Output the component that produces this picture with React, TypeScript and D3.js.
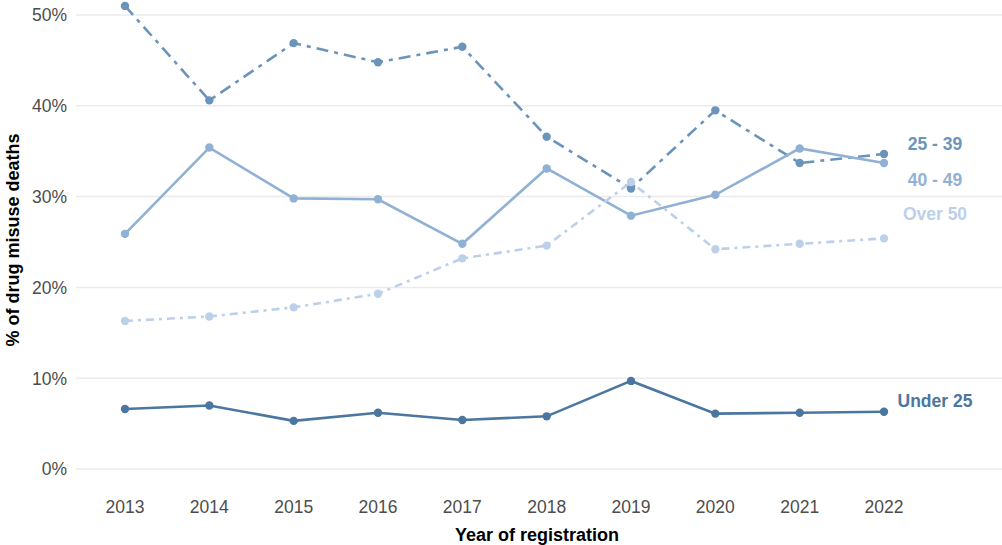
import * as d3 from 'd3';
import React from 'react';

const years = [2013, 2014, 2015, 2016, 2017, 2018, 2019, 2020, 2021, 2022];
const under25 = [6.6, 7.0, 5.3, 6.2, 5.4, 5.8, 9.7, 6.1, 6.2, 6.3];
const age25to39 = [51.0, 40.6, 46.9, 44.8, 46.5, 36.6, 30.9, 39.5, 33.7, 34.7];
const age40to49 = [25.9, 35.4, 29.8, 29.7, 24.8, 33.1, 27.9, 30.2, 35.3, 33.7];
const over50 = [16.3, 16.8, 17.8, 19.3, 23.2, 24.6, 31.6, 24.2, 24.8, 25.4];
const seriesNames = ['Under 25', '25 - 39', '40 - 49', 'Over 50'];
const labelValues = [7.5, 35.8, 31.9, 28.1];
const yTicks = [0, 10, 20, 30, 40, 50];

const series = [
  { name: seriesNames[0], values: under25, color: '#4a76a0', dash: null },
  { name: seriesNames[1], values: age25to39, color: '#6b94bb', dash: '12,6,4,6' },
  { name: seriesNames[2], values: age40to49, color: '#91b1d4', dash: null },
  { name: seriesNames[3], values: over50, color: '#bdd0ea', dash: '8,5,3,5' },
];

const width = 1002;
const height = 545;

export default function App() {
  const x = d3.scaleLinear().domain([2013, 2022]).range([125, 884]);
  const y = d3.scaleLinear().domain([0, 50]).range([469, 15]);
  const line = d3.line<number>()
    .x((d, i) => x(years[i]))
    .y(d => y(d));

  const font = 'Arial, "Liberation Sans", sans-serif';

  return (
    <svg width={width} height={height} style={{ position: 'absolute', left: 0, top: 0 }}>
      <g>
        {yTicks.map(t => (
          <g key={t}>
            <line x1={76} x2={width} y1={y(t)} y2={y(t)} stroke="#ebebeb" strokeWidth={1.5} />
            <text x={67} y={y(t)} dy="0.36em" textAnchor="end" fontFamily={font} fontSize={17.5} fill="#4d4d4d">
              {t}%
            </text>
          </g>
        ))}
        {years.map(yr => (
          <text key={yr} x={x(yr)} y={513} textAnchor="middle" fontFamily={font} fontSize={17.5} fill="#4d4d4d">
            {yr}
          </text>
        ))}
      </g>
      {series.map(s => (
        <g key={s.name}>
          <path d={line(s.values) || ''} fill="none" stroke={s.color} strokeWidth={2.6}
            strokeDasharray={s.dash || undefined} />
          {s.values.map((v, i) => (
            <circle key={i} cx={x(years[i])} cy={y(v)} r={4.2} fill={s.color} />
          ))}
        </g>
      ))}
      {series.map((s, i) => (
        <text key={s.name} x={x(2022) + 51} y={y(labelValues[i])} dy="0.36em" textAnchor="middle"
          fontFamily={font} fontSize={17.5} fontWeight="bold" fill={s.color}>
          {s.name}
        </text>
      ))}
      <text x={537} y={541} textAnchor="middle" fontFamily={font} fontSize={18} fontWeight="bold" fill="#000">
        Year of registration
      </text>
      <text transform={`translate(19,${240}) rotate(-90)`} textAnchor="middle" fontFamily={font} fontSize={18}
        fontWeight="bold" fill="#000">
        % of drug misuse deaths
      </text>
    </svg>
  );
}
